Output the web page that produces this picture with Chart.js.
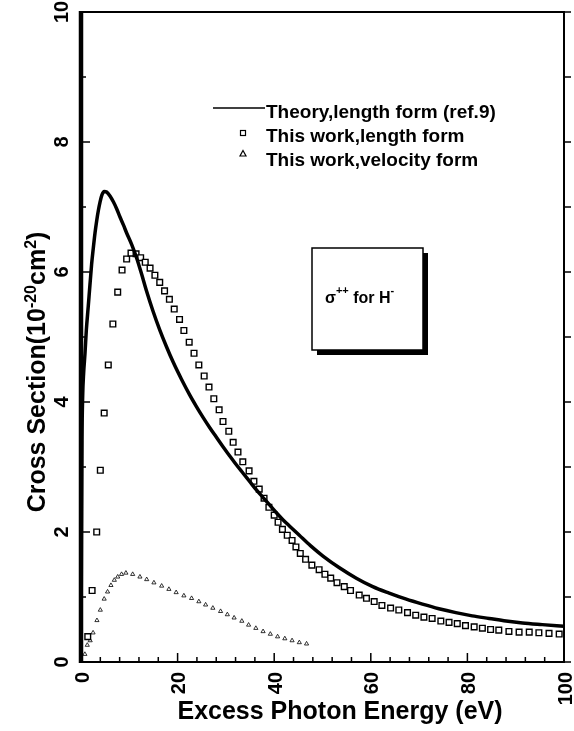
<!DOCTYPE html>
<html>
<head>
<meta charset="utf-8">
<script src="https://cdn.jsdelivr.net/npm/chart.js@4.4.1/dist/chart.umd.min.js"></script>
<style>
  body { margin: 0; background: #fff; }
  canvas { display: block; }
</style>
</head>
<body>
<canvas id="chart" width="574" height="731"></canvas>
<script>
// theory curve, length form (ref.9)
var theoryX = [0, 0.1, 0.2, 0.35, 0.55, 0.83, 1.1, 1.5, 1.85, 2.2, 2.55, 2.9, 3.25, 3.6, 3.95, 4.3, 4.8, 5.3, 6.0, 6.7,
  7.4, 8.05, 8.8, 9.45, 10.5, 11.5, 12.5, 13.6, 14.9, 16.3, 17.7, 19.1, 20.8, 22.5, 23.9, 25.3, 26.7, 28, 29.4, 30.8,
  32.2, 33.6, 35, 36.4, 37.7, 39, 40.4, 41.8, 43.2, 45.2, 47.5, 50.1, 53.5, 57, 60.4, 63.8, 67.2, 70.7, 74.1, 77.6,
  81, 84.5, 88, 91.4, 95.5, 100];
var theoryY = [0, 2.0, 3.4, 4.1, 4.45, 4.75, 5.1, 5.47, 5.8, 6.12, 6.37, 6.6, 6.79, 6.95, 7.08, 7.18, 7.24, 7.23, 7.17, 7.08,
  6.97, 6.85, 6.72, 6.6, 6.42, 6.22, 5.98, 5.7, 5.4, 5.11, 4.85, 4.61, 4.35, 4.11, 3.93, 3.76, 3.6, 3.46, 3.31, 3.17,
  3.03, 2.9, 2.77, 2.64, 2.53, 2.42, 2.3, 2.19, 2.09, 1.95, 1.79, 1.63, 1.45, 1.29, 1.16, 1.06, 0.97, 0.89, 0.82, 0.76,
  0.71, 0.67, 0.63, 0.6, 0.575, 0.55];

// this work, length form (squares)
var lengthX = [1.4, 2.3, 3.25, 4.0, 4.8, 5.65, 6.6, 7.6, 8.5, 9.45, 10.35, 11.4, 12.35, 13.3, 14.3, 15.3, 16.3, 17.3, 18.3, 19.3,
  20.4, 21.3, 22.4, 23.4, 24.4, 25.5, 26.5, 27.5, 28.6, 29.4, 30.6, 31.5, 32.5, 33.5, 34.8, 35.8, 36.9, 37.9, 38.9, 40.0,
  40.8, 41.7, 42.7, 43.7, 44.5, 45.4, 46.5, 47.8, 49.3, 50.5, 51.7, 53.0, 54.5, 55.8, 57.6, 59.1, 60.7, 62.3, 64.1, 65.8,
  67.6, 69.3, 71.0, 72.7, 74.5, 76.2, 77.9, 79.6, 81.4, 83.1, 84.8, 86.5, 88.6, 90.7, 92.8, 94.8, 96.9, 99.0];
var lengthY = [0.39, 1.1, 2.0, 2.95, 3.83, 4.57, 5.2, 5.69, 6.03, 6.2, 6.29, 6.28, 6.22, 6.15, 6.06, 5.95, 5.84, 5.71, 5.58, 5.43,
  5.27, 5.1, 4.92, 4.75, 4.57, 4.4, 4.23, 4.05, 3.88, 3.7, 3.55, 3.38, 3.23, 3.08, 2.94, 2.78, 2.66, 2.52, 2.38, 2.26,
  2.15, 2.04, 1.95, 1.87, 1.77, 1.67, 1.58, 1.49, 1.42, 1.35, 1.29, 1.22, 1.16, 1.1, 1.03, 0.98, 0.93, 0.87, 0.83, 0.8,
  0.76, 0.72, 0.69, 0.67, 0.63, 0.61, 0.59, 0.56, 0.54, 0.52, 0.5, 0.49, 0.47, 0.46, 0.46, 0.45, 0.44, 0.43];

// this work, velocity form (triangles)
var velocityX = [0.8, 1.3, 1.9, 2.5, 3.3, 4.0, 4.8, 5.5, 6.2, 6.9, 7.6, 8.4, 9.3, 10.7, 12.2, 13.6, 15.1, 16.7, 18.2, 19.7,
  21.3, 22.9, 24.4, 25.8, 27.3, 28.9, 30.3, 31.7, 33.3, 34.7, 36.2, 37.7, 39.2, 40.7, 42.2, 43.7, 45.2, 46.7];
var velocityY = [0.12, 0.26, 0.33, 0.45, 0.64, 0.8, 0.97, 1.08, 1.18, 1.26, 1.31, 1.35, 1.37, 1.35, 1.31, 1.27, 1.22, 1.17, 1.12, 1.07,
  1.02, 0.98, 0.93, 0.88, 0.83, 0.78, 0.73, 0.68, 0.63, 0.57, 0.52, 0.47, 0.43, 0.39, 0.36, 0.33, 0.3, 0.28];

var xTicks = [0, 20, 40, 60, 80, 100];
var yTicks = [0, 2, 4, 6, 8, 10];
var legendLabels = ['Theory,length form (ref.9)', 'This work,length form', 'This work,velocity form'];

function pts(xs, ys) {
  return xs.map(function (x, i) { return { x: x, y: ys[i] }; });
}

var FONT = '"Liberation Sans", Arial, sans-serif';

function rotText(ctx, txt, x, y, align) {
  ctx.save();
  ctx.translate(x, y);
  ctx.rotate(-Math.PI / 2);
  ctx.textAlign = align;
  ctx.textBaseline = 'middle';
  ctx.fillText(txt, 0, 0);
  ctx.restore();
}

// draws a run of text pieces (some raised as superscripts) starting at x
function runText(ctx, parts, x, y) {
  parts.forEach(function (p) {
    ctx.font = 'bold ' + p.size + 'px ' + FONT;
    ctx.fillText(p.t, x, y - (p.up || 0));
    x += ctx.measureText(p.t).width;
  });
}
function runWidth(ctx, parts) {
  var w = 0;
  parts.forEach(function (p) {
    ctx.font = 'bold ' + p.size + 'px ' + FONT;
    w += ctx.measureText(p.t).width;
  });
  return w;
}

var paperPlugin = {
  id: 'paper',
  afterDatasetsDraw: function (chart) {
    var ctx = chart.ctx, a = chart.chartArea;
    var xs = chart.scales.x, ys = chart.scales.y;
    ctx.save();
    ctx.strokeStyle = '#000';
    ctx.fillStyle = '#000';

    // frame
    ctx.lineWidth = 2;
    ctx.beginPath();
    ctx.moveTo(a.left, a.top);
    ctx.lineTo(a.right, a.top);
    ctx.lineTo(a.right, a.bottom);
    ctx.lineTo(a.left, a.bottom);
    ctx.stroke();
    ctx.lineWidth = 4.5;
    ctx.beginPath();
    ctx.moveTo(a.left, a.top - 1);
    ctx.lineTo(a.left, a.bottom + 1);
    ctx.stroke();

    // ticks: left and bottom point in, right side points out
    ctx.lineWidth = 1.5;
    ctx.beginPath();
    for (var v = 0; v <= 10; v++) {
      var py = ys.getPixelForValue(v);
      var len = v % 2 === 0 ? 9 : 5;
      ctx.moveTo(a.left, py); ctx.lineTo(a.left + len, py);
      ctx.moveTo(a.right, py); ctx.lineTo(a.right + 7, py);
    }
    for (var u = 0; u <= 100; u += 4) {
      var px = xs.getPixelForValue(u);
      var l2 = u % 20 === 0 ? 9 : 5;
      ctx.moveTo(px, a.bottom); ctx.lineTo(px, a.bottom - l2);
    }
    ctx.stroke();

    // tick labels
    ctx.font = 'bold 20px ' + FONT;
    xTicks.forEach(function (t) {
      rotText(ctx, String(t), xs.getPixelForValue(t) + 2, a.bottom + 10, 'right');
    });
    yTicks.forEach(function (t) {
      rotText(ctx, String(t), 62, ys.getPixelForValue(t), 'center');
    });

    // axis titles
    ctx.font = 'bold 25px ' + FONT;
    ctx.textAlign = 'center';
    ctx.textBaseline = 'alphabetic';
    ctx.fillText('Excess Photon Energy (eV)', 340, 719);

    var yParts = [
      { t: 'Cross Section(10', size: 25 },
      { t: '-20', size: 16, up: 9 },
      { t: 'cm', size: 25 },
      { t: '2', size: 16, up: 9 },
      { t: ')', size: 25 }
    ];
    ctx.save();
    ctx.translate(45, 372);
    ctx.rotate(-Math.PI / 2);
    ctx.textAlign = 'left';
    runText(ctx, yParts, -runWidth(ctx, yParts) / 2, 0);
    ctx.restore();

    // legend
    ctx.lineWidth = 1.5;
    ctx.beginPath();
    ctx.moveTo(213, 108); ctx.lineTo(265, 108);
    ctx.stroke();
    ctx.lineWidth = 1.2;
    ctx.strokeRect(240.5, 130.5, 5, 5);
    ctx.beginPath();
    ctx.moveTo(243, 150.5); ctx.lineTo(246, 156); ctx.lineTo(240, 156); ctx.closePath();
    ctx.stroke();
    ctx.font = 'bold 19px ' + FONT;
    ctx.textAlign = 'left';
    legendLabels.forEach(function (s, i) {
      ctx.fillText(s, 266, 118 + i * 24);
    });

    // label box with shadow
    ctx.fillRect(317, 253, 111, 102);
    ctx.fillStyle = '#fff';
    ctx.fillRect(312, 248, 111, 102);
    ctx.fillStyle = '#000';
    ctx.lineWidth = 1.5;
    ctx.strokeRect(312, 248, 111, 102);
    runText(ctx, [
      { t: 'σ', size: 16 },
      { t: '++', size: 11, up: 9 },
      { t: ' for H', size: 16 },
      { t: '-', size: 11, up: 9 }
    ], 325, 303);

    ctx.restore();
  }
};

var ctx = document.getElementById('chart').getContext('2d');
var chart = new Chart(ctx, {
  type: 'scatter',
  data: {
    datasets: [{
      label: legendLabels[0],
      data: pts(theoryX, theoryY),
      showLine: true,
      borderColor: '#000',
      borderWidth: 3.5,
      pointRadius: 0,
      cubicInterpolationMode: 'monotone'
    }, {
      label: legendLabels[1],
      data: pts(lengthX, lengthY),
      pointStyle: 'rect',
      pointRadius: 4,
      borderColor: '#000',
      backgroundColor: '#fff',
      borderWidth: 1.4
    }, {
      label: legendLabels[2],
      data: pts(velocityX, velocityY),
      pointStyle: 'triangle',
      pointRadius: 2.4,
      borderColor: '#000',
      backgroundColor: 'rgba(0,0,0,0)',
      borderWidth: 0.8
    }]
  },
  options: {
    responsive: false,
    animation: false,
    devicePixelRatio: 1,
    events: [],
    layout: { padding: { top: 12, right: 10, left: 0, bottom: 0 } },
    plugins: { legend: { display: false }, tooltip: { enabled: false } },
    scales: {
      x: {
        type: 'linear', min: 0, max: 100,
        ticks: { display: false }, grid: { display: false }, border: { display: false },
        afterFit: function (s) { s.height = 69; }
      },
      y: {
        type: 'linear', min: 0, max: 10,
        ticks: { display: false }, grid: { display: false }, border: { display: false },
        afterFit: function (s) { s.width = 81; }
      }
    }
  },
  plugins: [paperPlugin]
});
</script>
</body>
</html>
